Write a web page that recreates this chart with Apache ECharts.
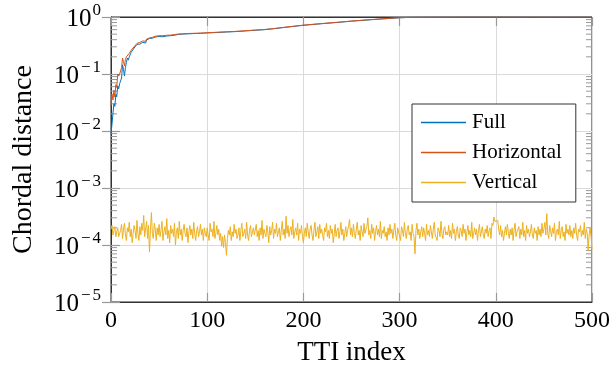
<!DOCTYPE html>
<html>
<head>
<meta charset="utf-8">
<script src="https://cdn.jsdelivr.net/npm/echarts@6/dist/echarts.min.js"></script>
<style>html,body{margin:0;padding:0;background:#fff}#chart{width:613px;height:371px}</style>
</head>
<body>
<div id="chart"></div>
<script>
// TTI indices for the Full / Horizontal curves
const ttiCurve = [0,1,2,3,4,5,6,7,8,9,10,11,12,13,14,15,16,17,18,19,20,21,22,23,24,25,26,27,28,29,30,31,32,33,34,35,36,37,38,39,40,41,42,43,44,45,46,47,48,50,52,54,56,58,60,62,64,66,68,70,72,74,76,78,80,82,84,86,88,90,93,96,100,110,120,130,140,150,160,170,180,190,200,210,220,230,240,250,260,270,280,290,300,310,320,340,360,380,400,420,440,460,480,500];
const fullVals = [0.009,0.013,0.020,0.030,0.027,0.044,0.040,0.062,0.055,0.068,0.066,0.085,0.145,0.120,0.092,0.130,0.160,0.190,0.175,0.200,0.215,0.240,0.225,0.255,0.285,0.270,0.300,0.330,0.345,0.310,0.335,0.340,0.315,0.360,0.375,0.380,0.350,0.395,0.400,0.375,0.420,0.430,0.405,0.425,0.440,0.420,0.445,0.450,0.435,0.455,0.460,0.450,0.470,0.465,0.475,0.470,0.485,0.478,0.490,0.495,0.488,0.500,0.497,0.505,0.502,0.508,0.506,0.512,0.510,0.515,0.517,0.520,0.525,0.535,0.545,0.555,0.570,0.585,0.600,0.625,0.655,0.685,0.715,0.740,0.765,0.790,0.815,0.845,0.870,0.895,0.920,0.945,0.970,0.982,0.988,0.992,0.994,0.995,0.996,0.997,0.997,0.998,0.998,0.998];
const horizVals = [0.028,0.045,0.035,0.052,0.040,0.065,0.058,0.100,0.092,0.100,0.101,0.130,0.190,0.165,0.140,0.180,0.200,0.215,0.205,0.230,0.240,0.262,0.250,0.280,0.300,0.295,0.325,0.345,0.370,0.340,0.360,0.385,0.350,0.380,0.395,0.400,0.375,0.410,0.420,0.400,0.430,0.445,0.425,0.440,0.455,0.445,0.460,0.465,0.450,0.470,0.475,0.470,0.480,0.478,0.490,0.482,0.495,0.492,0.500,0.503,0.498,0.507,0.506,0.512,0.510,0.515,0.513,0.518,0.516,0.520,0.523,0.526,0.530,0.540,0.550,0.560,0.575,0.590,0.605,0.630,0.660,0.690,0.720,0.745,0.770,0.795,0.820,0.850,0.875,0.900,0.925,0.950,0.972,0.984,0.989,0.993,0.995,0.996,0.997,0.997,0.998,0.998,0.998,0.999];
// Vertical series, one value per TTI index 0..500, in units of 1e-4
const vertVals = [
1.9,2.2,1.5,1.8,2.1,1.4,1.7,2.0,1.4,1.6,1.8,2.3,1.3,1.9,2.4,1.5,1.2,2.0,1.7,2.5,1.4,1.9,1.1,1.6,2.2,1.8,1.3,2.7,1.6,1.2,2.1,1.5,2.4,1.8,3.3,1.4,1.9,2.6,1.3,2.2,0.75,1.8,3.7,1.6,1.3,2.4,1.9,1.2,2.0,1.5,
2.3,1.4,1.8,2.6,1.2,1.7,2.1,1.5,2.9,1.3,1.8,1.1,2.2,1.6,1.9,1.4,2.4,1.0,1.7,2.0,1.3,2.6,1.5,1.9,1.2,1.8,2.3,1.6,1.4,2.0,1.1,1.7,2.2,1.5,1.9,1.3,2.5,1.6,1.2,1.8,2.1,1.4,1.7,2.3,1.5,1.9,1.2,2.0,1.6,1.4,
2.0,1.5,1.2,2.4,1.7,1.9,1.4,2.6,1.3,1.6,2.2,1.5,1.9,1.2,1.6,0.95,1.4,0.9,1.5,1.1,0.66,1.3,1.8,1.5,2.1,1.2,1.7,1.4,2.3,1.6,1.9,1.3,1.5,2.0,1.2,1.8,2.4,1.4,1.6,1.9,1.3,2.5,1.5,1.2,1.8,2.2,1.4,1.7,2.0,1.5,
1.6,2.3,1.4,1.8,1.2,2.0,1.5,2.7,1.3,1.9,1.6,1.4,2.2,1.7,1.1,2.1,1.5,1.8,2.5,1.3,1.9,1.6,2.4,1.4,1.7,2.0,1.2,1.8,2.6,1.5,1.9,1.3,3.2,1.6,2.2,1.4,1.8,2.1,1.5,2.8,1.3,1.7,2.0,1.5,2.4,1.2,1.9,1.6,2.2,1.4,
1.1,1.6,2.0,1.4,2.4,1.7,1.3,1.9,2.2,1.5,1.2,1.8,2.5,1.4,1.7,2.1,1.3,2.3,1.6,1.9,1.5,1.2,2.0,1.7,2.4,1.4,1.8,1.3,2.2,1.6,1.9,1.1,1.5,2.3,1.4,1.8,2.0,1.3,1.7,2.5,1.5,1.9,1.2,1.6,2.1,1.4,1.8,2.2,2.8,1.5,
2.0,1.4,2.3,1.6,1.3,1.9,2.5,1.5,1.8,1.2,2.2,1.7,1.4,2.4,1.6,1.9,2.1,3.0,1.5,1.8,1.3,2.3,1.6,2.0,1.2,1.7,2.2,1.5,1.9,1.4,2.6,1.3,1.8,1.6,2.1,1.4,1.7,1.2,2.0,1.5,2.3,1.6,1.9,1.3,1.8,2.4,1.5,1.2,2.0,1.7,
1.6,1.2,2.1,1.8,1.4,2.5,1.6,1.3,1.9,2.2,1.5,1.7,1.2,2.3,1.6,1.4,0.7,1.8,2.4,1.5,1.9,1.3,1.7,2.1,1.4,2.0,1.6,1.2,2.3,1.5,1.8,1.4,2.2,1.7,1.3,1.9,2.5,1.5,1.6,1.2,2.0,1.8,1.4,2.6,1.6,1.3,1.9,2.1,1.5,1.7,
1.5,2.2,1.4,1.8,1.3,2.4,1.6,1.9,1.2,1.7,2.1,1.5,1.3,2.0,1.8,1.4,2.3,1.6,1.9,1.2,1.7,2.2,1.5,1.8,1.4,2.5,1.3,1.6,2.0,1.5,1.9,1.2,1.8,2.3,1.4,1.7,2.1,1.5,1.3,1.9,1.6,2.2,1.4,1.8,2.0,1.3,2.4,2.2,3.1,2.6,
2.8,2.5,2.7,1.9,1.5,2.2,1.4,1.8,1.2,1.6,2.1,1.5,2.3,1.7,1.3,1.9,1.5,2.0,1.2,1.8,2.4,1.4,1.7,1.6,2.1,1.3,1.9,1.5,2.5,1.4,1.8,1.2,2.2,1.6,1.9,1.4,1.7,2.3,1.5,1.3,2.0,1.6,1.8,1.2,2.1,1.5,1.9,1.4,2.4,1.6,
1.9,2.5,1.5,3.55,1.6,1.3,2.2,1.8,1.4,2.0,1.6,2.4,1.2,1.7,1.9,1.5,2.6,1.3,1.8,2.1,1.4,1.7,1.2,2.3,1.6,1.9,1.5,2.2,1.4,1.8,1.3,2.0,1.6,2.4,1.5,1.2,1.9,1.7,2.2,1.4,1.8,1.5,2.5,1.3,1.9,1.6,0.8,1.5,2.0,1.4,
0.85];
const seriesNames = ['Full', 'Horizontal', 'Vertical'];
const xTicks = [0, 100, 200, 300, 400, 500];
const yDecades = [-5, -4, -3, -2, -1, 0];
const minorMult = [2,3,4,5,6,7,8,9];

const FONT = '"Liberation Serif", "Times New Roman", serif';
const colors = ['#0072BD', '#D95319', '#EDB120'];

const fullData = ttiCurve.map((x, i) => [x, fullVals[i]]);
const horizData = ttiCurve.map((x, i) => [x, horizVals[i]]);
const vertData = vertVals.map((v, i) => [i, v * 1e-4]);
const minorTicks = [];
yDecades.slice(0, -1).forEach(e => minorMult.forEach(m => minorTicks.push([0, m * Math.pow(10, e)])));

const supLabel = v => {
  const e = Math.round(Math.log10(v));
  return e < 0 ? '{b|10}{m|\u2212}{s|' + (-e) + '}' : '{b|10}{s|' + e + '}';
};
const labelRich = {
  b: {fontFamily: FONT, fontSize: 25, color: '#000', lineHeight: 30, verticalAlign: 'bottom'},
  m: {fontFamily: FONT, fontSize: 17, color: '#000', lineHeight: 16, verticalAlign: 'top', padding: [0,1,0,2]},
  s: {fontFamily: FONT, fontSize: 17, color: '#000', lineHeight: 16, verticalAlign: 'top', padding: [0,0,0,1]}
};

const chart = echarts.init(document.getElementById('chart'), null, {renderer: 'canvas'});
const yBase = {
  type: 'log', logBase: 10, min: 1e-5, max: 1,
  axisLine: {show: true, lineStyle: {color: '#333', width: 1}},
  axisTick: {show: true, inside: true, length: 9, lineStyle: {color: '#999', width: 1.2}},
  minorTick: {show: false}
};
const xBase = {
  type: 'value', min: 0, max: 500, interval: 100,
  axisLine: {show: true, onZero: false, lineStyle: {color: '#333', width: 1}},
  axisTick: {show: true, inside: true, length: 9, lineStyle: {color: '#999', width: 1.2}}
};
chart.setOption({
  animation: false,
  backgroundColor: '#fff',
  grid: {left: 111, right: 21, top: 17, bottom: 66, show: true, borderColor: '#222', borderWidth: 1, containLabel: false},
  legend: {
    data: seriesNames,
    orient: 'vertical',
    left: 412, top: 104,
    backgroundColor: '#fff',
    borderColor: '#333', borderWidth: 1,
    padding: [8, 14, 9, 9],
    itemGap: 9,
    itemWidth: 45, itemHeight: 1.5,
    icon: 'rect',
    textStyle: {fontFamily: FONT, fontSize: 21, color: '#000', padding: [0,0,0,1]}
  },
  xAxis: [
    Object.assign({}, xBase, {
      position: 'bottom',
      name: 'TTI index', nameLocation: 'middle', nameGap: 37,
      nameTextStyle: {fontFamily: FONT, fontSize: 27, color: '#000'},
      axisLabel: {fontFamily: FONT, fontSize: 24, color: '#000', margin: 7, formatter: v => xTicks.includes(v) ? String(v) : ''},
      splitLine: {show: true, lineStyle: {color: '#dadada', width: 1}}
    }),
    Object.assign({}, xBase, {position: 'top', axisLabel: {show: false}, splitLine: {show: false}})
  ],
  yAxis: [
    Object.assign({}, yBase, {
      position: 'left',
      name: 'Chordal distance', nameLocation: 'middle', nameGap: 73, nameRotate: 90,
      nameTextStyle: {fontFamily: FONT, fontSize: 28, color: '#000'},
      axisLabel: {formatter: supLabel, rich: labelRich, margin: 10},
      splitLine: {show: true, lineStyle: {color: '#dadada', width: 1}}
    }),
    Object.assign({}, yBase, {position: 'right', axisLabel: {show: false}, splitLine: {show: false}})
  ],
  series: [
    {
      name: 'Minor', type: 'custom', xAxisIndex: 0, yAxisIndex: 0, silent: true, z: 1,
      data: minorTicks,
      renderItem: (params, api) => {
        const v = api.value(1);
        const pl = api.coord([0, v]);
        const pr = api.coord([500, v]);
        const st = {stroke: '#999', lineWidth: 1};
        return {type: 'group', children: [
          {type: 'line', shape: {x1: pl[0], y1: pl[1], x2: pl[0] + 6, y2: pl[1]}, style: st},
          {type: 'line', shape: {x1: pr[0], y1: pr[1], x2: pr[0] - 6, y2: pr[1]}, style: st}
        ]};
      }
    },
    {name: 'Full', type: 'line', data: fullData, showSymbol: false, symbol: 'none', lineStyle: {color: colors[0], width: 1}, itemStyle: {color: colors[0]}, z: 3},
    {name: 'Horizontal', type: 'line', data: horizData, showSymbol: false, symbol: 'none', lineStyle: {color: colors[1], width: 1}, itemStyle: {color: colors[1]}, z: 4},
    {name: 'Vertical', type: 'line', data: vertData, showSymbol: false, symbol: 'none', lineStyle: {color: colors[2], width: 1}, itemStyle: {color: colors[2]}, z: 3}
  ]
});
</script>
</body>
</html>
